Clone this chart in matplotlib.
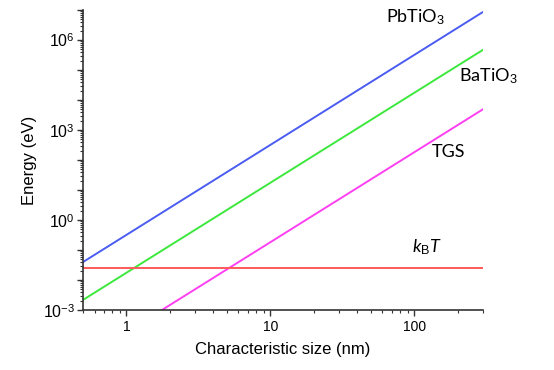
import numpy as np
import matplotlib
matplotlib.use("Agg")
import matplotlib.pyplot as plt
from matplotlib.ticker import LogLocator, FixedLocator, FuncFormatter, NullFormatter

# size range (nm) and energy prefactors, E = a * L^3
size_range = [0.5, 300]
materials = ["PbTiO$_3$", "BaTiO$_3$", "TGS"]
prefactor = [0.32, 0.0175, 1.83e-4]
colors = ["#4b5cf2", "#3de83d", "#ff3ff2"]
kT = 0.0259

x_ticks = [1, 10, 100]
y_labelled = [1e-3, 1e0, 1e3, 1e6]

plt.rcParams["mathtext.fontset"] = "custom"
plt.rcParams["mathtext.rm"] = "Liberation Sans"
plt.rcParams["mathtext.it"] = "Lato:italic"
plt.rcParams["axes.unicode_minus"] = False


def main():

    fig = plt.figure(figsize=(5.54, 3.70), dpi=100)
    ax = fig.add_axes([0.150, 0.162, 0.722, 0.811])

    L = np.logspace(np.log10(size_range[0]), np.log10(size_range[1]), 200)

    for a, c in zip(prefactor, colors):
        ax.plot(L, a * L**3, color=c, linewidth=1.4)

    ax.plot(size_range, [kT, kT], color="#ff5a5a", linewidth=1.4)

    ax.set_xscale("log")
    ax.set_yscale("log")
    ax.set_xlim(size_range)
    ax.set_ylim(1e-3, 1e7)

    for s in ["top", "right"]:
        ax.spines[s].set_visible(False)
    for s in ["left", "bottom"]:
        ax.spines[s].set_color("#333333")
        ax.spines[s].set_linewidth(1.2)

    ax.xaxis.set_major_locator(FixedLocator(x_ticks))
    ax.xaxis.set_major_formatter(FuncFormatter(lambda v, p: f"{v:g}"))
    ax.xaxis.set_minor_locator(LogLocator(base=10, subs=np.arange(2, 10), numticks=20))
    ax.xaxis.set_minor_formatter(NullFormatter())

    ax.yaxis.set_major_locator(LogLocator(base=10, numticks=20))
    ax.yaxis.set_major_formatter(FuncFormatter(
        lambda v, p: f"$10^{{{int(round(np.log10(v)))}}}$" if any(np.isclose(v, y) for y in y_labelled) else ""))
    ax.yaxis.set_minor_locator(LogLocator(base=10, subs=np.arange(2, 10), numticks=20))
    ax.yaxis.set_minor_formatter(NullFormatter())

    ax.tick_params(which="major", length=4, width=1, color="#333333", direction="out")
    ax.tick_params(which="minor", length=2.5, width=0.8, color="#333333", direction="out")
    ax.tick_params(axis="x", labelsize=10, pad=3)
    ax.tick_params(axis="y", labelsize=11.5, pad=2)
    for lab in ax.get_xticklabels() + ax.get_yticklabels():
        lab.set_fontfamily("Liberation Sans")

    ax.set_xlabel("Characteristic size (nm)", fontsize=12, family="Liberation Sans", labelpad=6)
    ax.set_ylabel("Energy (eV)", fontsize=12, family="Liberation Sans", labelpad=4)

    # curve labels
    ax.text(0.83, 0.975, materials[0], transform=ax.transAxes, fontsize=13, family="Lato",
            ha="center", va="center")
    ax.text(1.0125, 0.78, materials[1], transform=ax.transAxes, fontsize=13, family="Lato",
            ha="center", va="center")
    ax.text(0.9125, 0.527, materials[2], transform=ax.transAxes, fontsize=13, family="Lato",
            ha="center", va="center")
    ax.text(0.86, 0.21, "$k_{\\mathrm{B}}T$", transform=ax.transAxes, fontsize=13, family="Lato",
            ha="center", va="center", clip_on=False)

    plt.savefig("out.png", dpi=100)
    plt.close()


if __name__ == "__main__":
    main()
